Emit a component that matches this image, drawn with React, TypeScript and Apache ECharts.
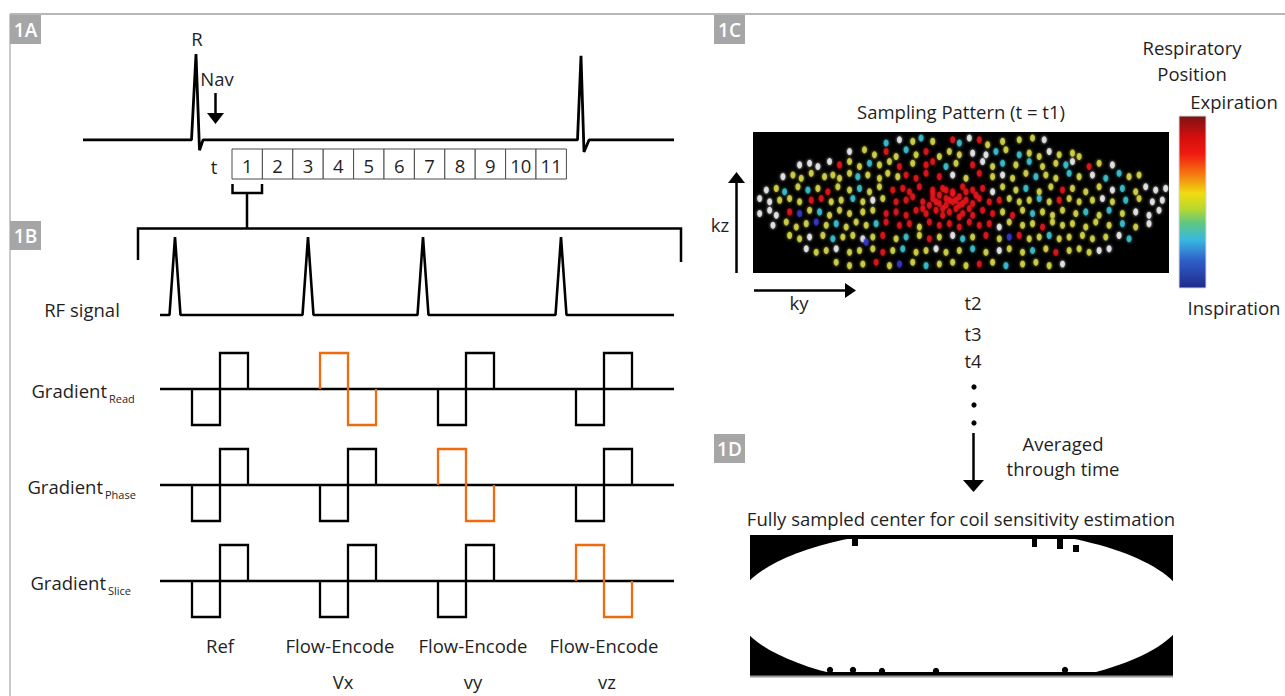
import React, { useEffect, useRef } from "react";
import * as echarts from "echarts";

// ---------- Panel 1A: ECG trace (time in ms, amplitude normalised) ----------
const ecgTime = [0, 217, 226, 233, 240, 989, 996, 1002, 1012, 1182];
const ecgAmp = [0, 0, 1.0, -0.12, 0, 0, 0.98, -0.14, 0, 0];

// cardiac time frames
const timeFrames = ["1", "2", "3", "4", "5", "6", "7", "8", "9", "10", "11"];

// ---------- Panel 1B: pulse sequence timing (arbitrary time units) ----------
const seqEnd = 514;
const rfPeaks = [15, 148, 263, 401];
const rfHalfDuration = 5.5;
const blockStarts = [32, 160, 278, 416];
const lobeDuration = 28;
const gradientAxes = ["Read", "Phase", "Slice"];
// index of the gradient axis carrying the (inverted) flow-encoding lobe per block, -1 = reference
const flowEncodedAxis = [-1, 0, 1, 2];
const blockTitles = ["Ref", "Flow-Encode", "Flow-Encode", "Flow-Encode"];
const blockSubtitles = ["", "Vx", "vy", "vz"];

// ---------- Panel 1C: sampling pattern (ky index, kz index) by respiratory colour ----------
const dotsWhite = [[48,4.5],[69,4],[91.5,4.5],[33,8],[70,8.5],[74,9],[93,8],[18,12],[21,11.5],[23.5,12.5],[27,11],[73,11],[100,11],[112,12],[13,15.5],[64,15],[79,15],[106,15],[8,19.5],[76,20],[112,19.5],[122,18.5],[125,19.5],[128,19],[6,22],[9,23],[40,22.5],[109,22],[124,23],[127,22.5],[6,26.5],[9,25.5],[11,27],[119,26],[123,27],[126,25.5],[10,30],[78,30.5],[123,29.5],[21,33.5],[37,34],[64,33],[114,33],[20,37],[29,37],[59,37],[78,37.5],[108,37.5],[111,37],[97,41.5]];
const dotsYellow = [[52,5],[58,5],[74.5,6],[79,5],[84,4.5],[88,4],[37.5,7.5],[40.5,9],[47,9.5],[53,9],[60,9.5],[63,8],[66,9],[80,7.5],[87,8.5],[90,9.5],[96,9],[100,8.5],[102,9.5],[33,11],[36,12.5],[42,12],[45,11],[52,11.5],[65,11.5],[76,12.5],[83,12],[91,12.5],[95,11.5],[108,11.5],[16,15],[18.5,16],[21.5,14.5],[25.5,15.5],[28,15],[30,16],[33,14.5],[38.5,15],[42,16],[44.5,14.5],[47.5,15.5],[68,16],[76,15.5],[82,16],[86,14.5],[92,15],[95,16],[102,15.5],[117,15.5],[120,15],[11,19],[17.5,18.5],[23.5,19],[29.5,18.5],[33,19.5],[39,20],[42,18.5],[79,18.5],[83,19.5],[90,20],[93.5,18.5],[100,19],[104,20],[108,18.5],[119,20],[12,22.5],[15,22],[18,23],[27.5,23],[30.5,22.5],[37,23],[43,22],[81,22],[84,23],[87,22.5],[93,23],[99,22],[102,23],[106,22.5],[112,23],[120,22],[21,25.5],[27,27],[30,25.5],[33,26.5],[37,26],[40,25.5],[79,26],[85,25.5],[91,26],[94,27],[97,25.5],[101,26.5],[108,27],[115,26.5],[14,29],[17,30.5],[20,29.5],[26,30],[32,30.5],[35,29],[38,30],[54,30.5],[81,29],[85,30],[88,29.5],[94,29],[97,30],[100,29.5],[104,30.5],[107,29],[111,30],[119,30.5],[15,33],[18,34],[25,33],[31,33.5],[34,33],[40,33.5],[47,34],[54,33],[60,33.5],[70,33.5],[78,34],[87,34],[90,33.5],[96,34],[99,33.5],[103,33],[106,34],[110,33.5],[23,38],[26,37.5],[33,38],[36,37.5],[40,37],[46,37.5],[53,38],[56,37.5],[62,38],[66,37.5],[74,38],[81,37],[85,38],[92,37],[99,37.5],[102,37],[105,38],[29,41],[33,42],[37,41.5],[45,42],[52,41],[60,41.5],[64,41],[68,42],[76,41],[85,41.5],[89,41],[93,42]];
const dotsCyan = [[44,5.5],[54.5,4],[66,5.5],[50,7.5],[77,8],[84,9],[39,11.5],[62,12.5],[79,11.5],[87,11],[98,12],[35.5,15.5],[89,15.5],[99,14.5],[110,16],[114,14.5],[13.5,20],[20.5,19.5],[36,19],[86,19],[115,19],[34,22],[90,22],[116,22.5],[24,26],[88,26.5],[104,26],[111,25.5],[29,29.5],[41,29.5],[115,29.5],[28,34],[50,33.5],[67,34],[93,33],[117,34],[49,37],[70,37],[88,37.5],[56,42],[80,42]];
const dotsRed = [[64,4.5],[72,4.5],[44,8],[56,8],[30,12],[48,12.5],[56,12],[58,11],[70,12],[105,12.5],[50,15],[53,16],[56,14.5],[60,15.5],[72,14.5],[26.5,20],[46,19.5],[49,19],[51,20],[54,18.5],[58,19.5],[61,19],[64,20],[67,18.5],[70,19.5],[73,19],[97,19.5],[21.5,22.5],[24.5,22],[47,23],[50,22.5],[52,21.5],[55,23],[58,22],[60,23.5],[62,22],[64,23],[66,21.5],[68,22.5],[70,23.5],[72,22],[75,23],[78,22.5],[96,22.5],[15,26],[44,26.5],[47,26],[50,27],[53,25.5],[56,26.5],[59,25.5],[61,27],[63,26],[65,25],[67,26.5],[70,27],[73,25.5],[76,26.5],[82,27],[44,29],[48,30],[51,29.5],[57,29],[60,30],[63,29.5],[66,30.5],[69,29],[72,30],[75,29.5],[91,30.5],[43,33],[57,34],[74,33],[84,33],[43,38],[95,38],[41,41],[72,41.5],[60,21],[62,24],[64,20.5],[66,24],[68,20],[63,22.5],[65,22.5],[61,25],[67,23.5],[59,23],[69,25],[57,24],[71,21],[62,19.5],[66,27.5],[55,25],[58,20.5]];
const dotsBlue = [[18,26.5],[23,29],[81,33.5],[48,41.5],[38,35]];

// respiratory colour bar (top = expiration, bottom = inspiration)
const colorbarStops = [
  [0, "#7a1414"], [0.12, "#d40d0d"], [0.22, "#f01a10"], [0.34, "#f57a10"],
  [0.45, "#f0dc10"], [0.54, "#b8d830"], [0.62, "#60c880"], [0.72, "#38b8e0"],
  [0.84, "#2f5fc8"], [1, "#1f2a8a"],
];

const FONT = '"Open Sans", "Noto Sans", sans-serif';
const FS = 18.5;
const TXT = "#1f1f1f";
const ORANGE = "#f06a10";

function text(t: string, x: number, y: number, extra: any = {}) {
  return {
    type: "text",
    x,
    y,
    silent: true,
    style: {
      text: t,
      fill: TXT,
      font: `${FS}px ${FONT}`,
      textAlign: "center",
      textVerticalAlign: "middle",
      ...extra,
    },
  };
}

function panelTag(label: string, x: number, y: number) {
  return [
    { type: "rect", shape: { x, y, width: 31, height: 29 }, style: { fill: "#a6a6a6" }, silent: true },
    {
      type: "text",
      x: x + 15.5,
      y: y + 15,
      silent: true,
      style: {
        text: label,
        fill: "#ffffff",
        font: `600 19px ${FONT}`,
        textAlign: "center",
        textVerticalAlign: "middle",
      },
    },
  ];
}

function buildOption() {
  const grids: any[] = [
    { left: 83, top: 54, width: 591, height: 98 }, // ECG
    { left: 160, top: 237, width: 514, height: 78 }, // RF
    { left: 160, top: 353, width: 514, height: 72 }, // Read
    { left: 160, top: 449, width: 514, height: 72 }, // Phase
    { left: 160, top: 545, width: 514, height: 72 }, // Slice
    { left: 753, top: 132, width: 416, height: 141, show: true, backgroundColor: "#000", borderWidth: 0 },
  ];
  const hidden = { show: false };
  const xAxes: any[] = [
    { type: "value", gridIndex: 0, min: 0, max: ecgTime[ecgTime.length - 1], ...hidden },
    { type: "value", gridIndex: 1, min: 0, max: seqEnd, ...hidden },
    { type: "value", gridIndex: 2, min: 0, max: seqEnd, ...hidden },
    { type: "value", gridIndex: 3, min: 0, max: seqEnd, ...hidden },
    { type: "value", gridIndex: 4, min: 0, max: seqEnd, ...hidden },
    { type: "value", gridIndex: 5, min: 4, max: 129, ...hidden },
  ];
  const yAxes: any[] = [
    { type: "value", gridIndex: 0, min: -0.14, max: 1.0, ...hidden },
    { type: "value", gridIndex: 1, min: 0, max: 1, ...hidden },
    { type: "value", gridIndex: 2, min: -1, max: 1, ...hidden },
    { type: "value", gridIndex: 3, min: -1, max: 1, ...hidden },
    { type: "value", gridIndex: 4, min: -1, max: 1, ...hidden },
    { type: "value", gridIndex: 5, min: 2.2, max: 44.2, inverse: true, ...hidden },
  ];

  const series: any[] = [];
  const lineBase = { type: "line", symbol: "none", clip: false, silent: true, animation: false };

  series.push({
    ...lineBase,
    xAxisIndex: 0,
    yAxisIndex: 0,
    data: ecgTime.map((t, i) => [t, ecgAmp[i]]),
    lineStyle: { color: "#000", width: 2.8 },
  });

  const rf: number[][] = [[0, 0]];
  rfPeaks.forEach((p) => {
    rf.push([p - rfHalfDuration, 0], [p, 1], [p + rfHalfDuration, 0]);
  });
  rf.push([seqEnd, 0]);
  series.push({ ...lineBase, xAxisIndex: 1, yAxisIndex: 1, data: rf, lineStyle: { color: "#000", width: 2.6 } });

  gradientAxes.forEach((_, r) => {
    const ai = r + 2;
    series.push({
      ...lineBase,
      xAxisIndex: ai,
      yAxisIndex: ai,
      data: [[0, 0], [seqEnd, 0]],
      lineStyle: { color: "#000", width: 2.5 },
    });
    blockStarts.forEach((s, b) => {
      const fe = flowEncodedAxis[b] === r;
      const pol = fe ? 1 : -1;
      const w = lobeDuration;
      series.push({
        ...lineBase,
        xAxisIndex: ai,
        yAxisIndex: ai,
        z: fe ? 4 : 3,
        data: [[s, 0], [s, pol], [s + w, pol], [s + w, -pol], [s + 2 * w, -pol], [s + 2 * w, 0]],
        lineStyle: { color: fe ? ORANGE : "#000", width: 2.3, join: "miter" },
      });
    });
  });

  const dotSeries = (data: number[][], color: string) => ({
    type: "scatter",
    xAxisIndex: 5,
    yAxisIndex: 5,
    symbol: "circle",
    symbolSize: [5, 7],
    silent: true,
    data,
    itemStyle: { color, shadowBlur: 3, shadowColor: color },
  });
  series.push(dotSeries(dotsWhite, "#f2f2f2"));
  series.push(dotSeries(dotsYellow, "#dcdc4c"));
  series.push(dotSeries(dotsCyan, "#3cc8d4"));
  series.push(dotSeries(dotsBlue, "#3a3ad0"));
  series.push(dotSeries(dotsRed, "#e8141c"));

  const g: any[] = [];
  // frame lines
  g.push({ type: "line", shape: { x1: 10, y1: 14, x2: 1285, y2: 14 }, style: { stroke: "#b8b8b8", lineWidth: 2 }, silent: true });
  g.push({ type: "line", shape: { x1: 10, y1: 14, x2: 10, y2: 696 }, style: { stroke: "#b8b8b8", lineWidth: 1.5 }, silent: true });
  g.push(...panelTag("1A", 10, 15));
  g.push(...panelTag("1B", 10, 221));
  g.push(...panelTag("1C", 714, 15));
  g.push(...panelTag("1D", 714, 434));

  // 1A annotations
  g.push(text("R", 197, 38));
  g.push(text("Nav", 217, 78));
  g.push({ type: "line", shape: { x1: 215.5, y1: 93, x2: 215.5, y2: 115 }, style: { stroke: "#000", lineWidth: 2.5 }, silent: true });
  g.push({ type: "polygon", shape: { points: [[207, 113], [224, 113], [215.5, 124]] }, style: { fill: "#000" }, silent: true });
  g.push(text("t", 214, 166));
  const bx0 = 232, bw = 30.4;
  timeFrames.forEach((lab, i) => {
    g.push({ type: "rect", shape: { x: bx0 + i * bw, y: 149, width: bw, height: 30 }, style: { fill: "#fff", stroke: "#4a4a4a", lineWidth: 1 }, silent: true });
    g.push(text(lab, bx0 + i * bw + bw / 2, 165));
  });
  g.push({ type: "polyline", shape: { points: [[232.5, 184], [232.5, 193], [262, 193], [262, 184]] }, style: { stroke: "#000", lineWidth: 2.5, fill: null }, silent: true });
  g.push({ type: "line", shape: { x1: 247, y1: 193, x2: 247, y2: 228 }, style: { stroke: "#000", lineWidth: 2.5 }, silent: true });
  g.push({ type: "polyline", shape: { points: [[138, 260], [138, 228.5], [681, 228.5], [681, 262]] }, style: { stroke: "#000", lineWidth: 2.5, fill: null }, silent: true });

  // 1B labels
  g.push(text("RF signal", 82, 309));
  const gradLabelRows = [
    { y: 390, end: 107 },
    { y: 486, end: 103 },
    { y: 582, end: 106 },
  ];
  gradientAxes.forEach((ax, r) => {
    const row = gradLabelRows[r];
    g.push(text("Gradient", row.end, row.y, { textAlign: "right" }));
    g.push(text(ax, row.end + 2, row.y + 8, { textAlign: "left", font: `11px ${FONT}` }));
  });
  const labelX = [220, 340, 473, 604];
  const subX = [220, 343, 473, 607];
  blockTitles.forEach((t, i) => {
    g.push(text(t, labelX[i], 645));
    if (blockSubtitles[i]) g.push(text(blockSubtitles[i], subX[i], 681));
  });

  // 1C annotations
  g.push(text("Respiratory", 1192, 47));
  g.push(text("Position", 1192, 73));
  g.push(text("Expiration", 1234, 101));
  g.push(text("Inspiration", 1234, 307));
  g.push(text("Sampling Pattern (t = t1)", 961, 111));
  g.push({
    type: "rect",
    shape: { x: 1179, y: 116, width: 27, height: 172 },
    style: {
      fill: new echarts.graphic.LinearGradient(0, 0, 0, 1, colorbarStops.map(([o, c]) => ({ offset: o as number, color: c as string }))),
      stroke: "#d8d8d8",
      lineWidth: 1,
    },
    silent: true,
  });
  g.push(text("kz", 720, 224));
  g.push({ type: "line", shape: { x1: 736.5, y1: 273, x2: 736.5, y2: 181 }, style: { stroke: "#000", lineWidth: 2.5 }, silent: true });
  g.push({ type: "polygon", shape: { points: [[728, 183], [745, 183], [736.5, 172]] }, style: { fill: "#000" }, silent: true });
  g.push(text("ky", 799, 302));
  g.push({ type: "line", shape: { x1: 754, y1: 290.5, x2: 847, y2: 290.5 }, style: { stroke: "#000", lineWidth: 2.5 }, silent: true });
  g.push({ type: "polygon", shape: { points: [[845, 283], [845, 298], [856, 290.5]] }, style: { fill: "#000" }, silent: true });
  g.push(text("t2", 973, 302));
  g.push(text("t3", 973, 333));
  g.push(text("t4", 973, 360));
  [387, 405, 423].forEach((y) => g.push({ type: "circle", shape: { cx: 974, cy: y, r: 2.6 }, style: { fill: "#000" }, silent: true }));
  g.push({ type: "line", shape: { x1: 973.5, y1: 433, x2: 973.5, y2: 482 }, style: { stroke: "#000", lineWidth: 2.5 }, silent: true });
  g.push({ type: "polygon", shape: { points: [[963, 480], [984, 480], [973.5, 492]] }, style: { fill: "#000" }, silent: true });
  g.push(text("Averaged", 1063, 443));
  g.push(text("through time", 1063, 468));

  // 1D
  g.push(text("Fully sampled center for coil sensitivity estimation", 961, 518));
  g.push({ type: "rect", shape: { x: 750, y: 535, width: 423, height: 142 }, style: { fill: "#000" }, silent: true });
  g.push({ type: "ellipse", shape: { cx: 961, cy: 608, rx: 225, ry: 80 }, style: { fill: "#fff" }, silent: true });
  g.push({ type: "rect", shape: { x: 750, y: 535, width: 423, height: 4 }, style: { fill: "#000" }, silent: true });
  [[852, 535, 6, 11], [1032, 535, 5, 12], [1057, 535, 6, 14], [1073, 545, 6, 7]].forEach(([x, y, w, h]) =>
    g.push({ type: "rect", shape: { x, y, width: w, height: h }, style: { fill: "#000" }, silent: true })
  );
  g.push({ type: "rect", shape: { x: 750, y: 672, width: 423, height: 5 }, style: { fill: "#000" }, silent: true });
  [[830, 670], [853, 670], [882, 671], [936, 671], [1065, 670]].forEach(([cx, cy]) =>
    g.push({ type: "circle", shape: { cx, cy, r: 3.2 }, style: { fill: "#000" }, silent: true })
  );
  g.push({ type: "rect", shape: { x: 730, y: 677, width: 460, height: 19 }, style: { fill: "#fff" }, silent: true });
  g.push({ type: "line", shape: { x1: 750, y1: 676.5, x2: 1173, y2: 676.5 }, style: { stroke: "#9a9a9a", lineWidth: 2 }, silent: true });

  return {
    animation: false,
    backgroundColor: "#ffffff",
    grid: grids,
    xAxis: xAxes,
    yAxis: yAxes,
    series,
    graphic: { elements: g },
  };
}

export default function App() {
  const ref = useRef<HTMLDivElement>(null);
  useEffect(() => {
    if (!ref.current) return;
    const chart = echarts.init(ref.current, null, { renderer: "svg" });
    chart.setOption(buildOption() as any);
    return () => chart.dispose();
  }, []);
  return (
    <div
      ref={ref}
      style={{ position: "absolute", left: 0, top: 0, width: 1285, height: 696, background: "#fff" }}
    />
  );
}
